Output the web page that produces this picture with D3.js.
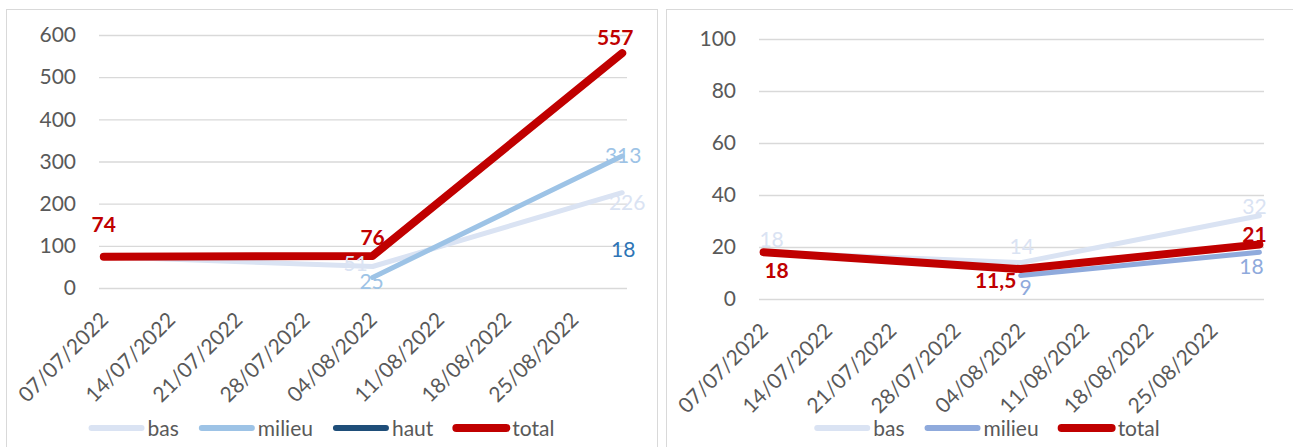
<!DOCTYPE html>
<html>
<head>
<meta charset="utf-8">
<script src="https://cdn.jsdelivr.net/npm/d3@7"></script>
<style>
  body { margin: 0; background: #fff; }
  svg { display: block; font-family: Lato, "Open Sans", sans-serif; }
</style>
</head>
<body>
<div class="chart"></div>
<script>
// Dates of the data points and of the axis labels
const pointDates = ['07/07/2022', '04/08/2022', '30/08/2022'];
const tickLabels = ['07/07/2022', '14/07/2022', '21/07/2022', '28/07/2022',
  '04/08/2022', '11/08/2022', '18/08/2022', '25/08/2022'];

// Left chart
const leftTicks = [0, 100, 200, 300, 400, 500, 600];
const leftBas = [74, 51, 226];
const leftMilieu = [null, 25, 313];
const leftHaut = [null, null, 18];
const leftTotal = [74, 76, 557];

// Right chart
const rightTicks = [0, 20, 40, 60, 80, 100];
const rightBas = [18, 14, 32];
const rightMilieu = [null, 9, 18];
const rightTotal = [18, 11.5, 21];

const parseDate = d3.timeParse('%d/%m/%Y');
const fr = d3.formatLocale({ decimal: ',', thousands: ' ', grouping: [3], currency: ['', ' €'] });
const fmtValue = fr.format('~f');

const svg = d3.select('.chart')
  .append('svg')
  .attr('width', 1293)
  .attr('height', 447);

function drawChart(opt) {
  const g = svg.append('g');

  // Chart frame
  g.append('rect')
    .attr('x', opt.frameX + 0.5)
    .attr('y', 9.5)
    .attr('width', 651)
    .attr('height', 520)
    .attr('fill', 'none')
    .attr('stroke', '#d9d9d9');

  const dates = pointDates.map(parseDate);
  const x = d3.scaleTime()
    .domain([d3.timeHour.offset(dates[0], -12), d3.timeHour.offset(dates[dates.length - 1], 12)])
    .range([opt.left, opt.right]);
  const y = d3.scaleLinear()
    .domain([0, d3.max(opt.ticks)])
    .range([opt.bottom, opt.top]);

  // Y axis with gridlines
  const yAxis = g.append('g')
    .attr('transform', `translate(${opt.left},0)`)
    .call(d3.axisLeft(y).tickValues(opt.ticks).tickSize(-(opt.right - opt.left)).tickPadding(23).tickFormat(d3.format('d')));
  yAxis.select('.domain').remove();
  yAxis.attr('font-family', null).attr('font-size', null);
  yAxis.selectAll('line').attr('stroke', '#d9d9d9').attr('stroke-width', 1.3);
  yAxis.selectAll('text').attr('fill', '#595959').style('font-size', '21px');

  // X axis, rotated labels
  const xAxis = g.append('g')
    .attr('transform', `translate(0,${opt.bottom + 28})`)
    .call(d3.axisBottom(x).tickValues(tickLabels.map(parseDate)).tickSize(0).tickPadding(0).tickFormat(d3.timeFormat('%d/%m/%Y')));
  xAxis.select('.domain').remove();
  xAxis.attr('font-family', null).attr('font-size', null);
  xAxis.selectAll('text')
    .attr('y', 0)
    .attr('dy', '0.35em')
    .attr('text-anchor', 'end')
    .attr('transform', 'rotate(-45)')
    .attr('fill', '#595959')
    .style('font-size', '21px');

  // Lines
  const line = d3.line()
    .defined(d => d.v != null)
    .x(d => x(d.date))
    .y(d => y(d.v));

  opt.series.forEach(s => {
    const pts = s.values.map((v, i) => ({ date: dates[i], v: v }));
    // a single point with no marker shows nothing
    if (pts.filter(d => d.v != null).length < 2) return;
    g.append('path')
      .datum(pts)
      .attr('fill', 'none')
      .attr('stroke', s.color)
      .attr('stroke-width', s.width)
      .attr('stroke-linecap', 'round')
      .attr('stroke-linejoin', 'round')
      .attr('d', line);
  });

  // Data labels
  opt.labels.forEach(l => {
    const s = opt.series[l.s];
    const v = s.values[l.i];
    g.append('text')
      .attr('x', x(dates[l.i]) + l.dx)
      .attr('y', y(v) + l.dy)
      .attr('dy', '0.35em')
      .attr('text-anchor', 'middle')
      .attr('fill', s.labelColor || s.color)
      .style('font-size', '21px')
      .style('font-weight', s.bold ? 'bold' : 'normal')
      .text(fmtValue(v));
  });

  // Legend
  const legend = g.append('g');
  let cursor = 0;
  opt.series.forEach(s => {
    const item = legend.append('g').attr('transform', `translate(${cursor},0)`);
    item.append('line')
      .attr('x1', 3).attr('x2', 53)
      .attr('stroke', s.color)
      .attr('stroke-width', s.legendWidth)
      .attr('stroke-linecap', 'round');
    const t = item.append('text')
      .attr('x', 59)
      .attr('dy', '0.4em')
      .attr('fill', '#595959')
      .style('font-size', '21px')
      .text(s.name);
    cursor += 59 + t.node().getComputedTextLength() + 20;
  });
  const legendWidth = cursor - 20;
  legend.attr('transform', `translate(${opt.legendCenter - legendWidth / 2},${opt.legendY})`);
}

drawChart({
  frameX: 6,
  left: 99, right: 627, top: 35, bottom: 288,
  ticks: leftTicks,
  legendY: 428, legendCenter: 321.5,
  series: [
    { name: 'bas', values: leftBas, color: '#dae3f3', width: 5, legendWidth: 6 },
    { name: 'milieu', values: leftMilieu, color: '#9dc3e6', width: 5, legendWidth: 6 },
    { name: 'haut', values: leftHaut, color: '#1f4e79', width: 5, legendWidth: 6, labelColor: '#2e75b6' },
    { name: 'total', values: leftTotal, color: '#c00000', width: 8, legendWidth: 8, bold: true }
  ],
  labels: [
    { s: 3, i: 0, dx: 0, dy: -32 },
    { s: 3, i: 1, dx: 0, dy: -18 },
    { s: 3, i: 2, dx: -7, dy: -15 },
    { s: 0, i: 1, dx: -17, dy: -3 },
    { s: 0, i: 2, dx: 5, dy: 10 },
    { s: 1, i: 1, dx: -1, dy: 4 },
    { s: 1, i: 2, dx: 1, dy: 0 },
    { s: 2, i: 2, dx: 1, dy: -31 }
  ]
});

drawChart({
  frameX: 666,
  left: 759, right: 1264, top: 39, bottom: 299,
  ticks: rightTicks,
  legendY: 428, legendCenter: 987,
  series: [
    { name: 'bas', values: rightBas, color: '#dae3f3', width: 5, legendWidth: 6 },
    { name: 'milieu', values: rightMilieu, color: '#8faadc', width: 5, legendWidth: 6 },
    { name: 'total', values: rightTotal, color: '#c00000', width: 8, legendWidth: 8, bold: true }
  ],
  labels: [
    { s: 0, i: 0, dx: 8, dy: -13 },
    { s: 2, i: 0, dx: 13, dy: 18 },
    { s: 0, i: 1, dx: 1, dy: -16 },
    { s: 2, i: 1, dx: -25, dy: 12 },
    { s: 1, i: 1, dx: 5, dy: 12 },
    { s: 0, i: 2, dx: -5, dy: -9 },
    { s: 2, i: 2, dx: -5, dy: -10 },
    { s: 1, i: 2, dx: -8, dy: 14 }
  ]
});
</script>
</body>
</html>
